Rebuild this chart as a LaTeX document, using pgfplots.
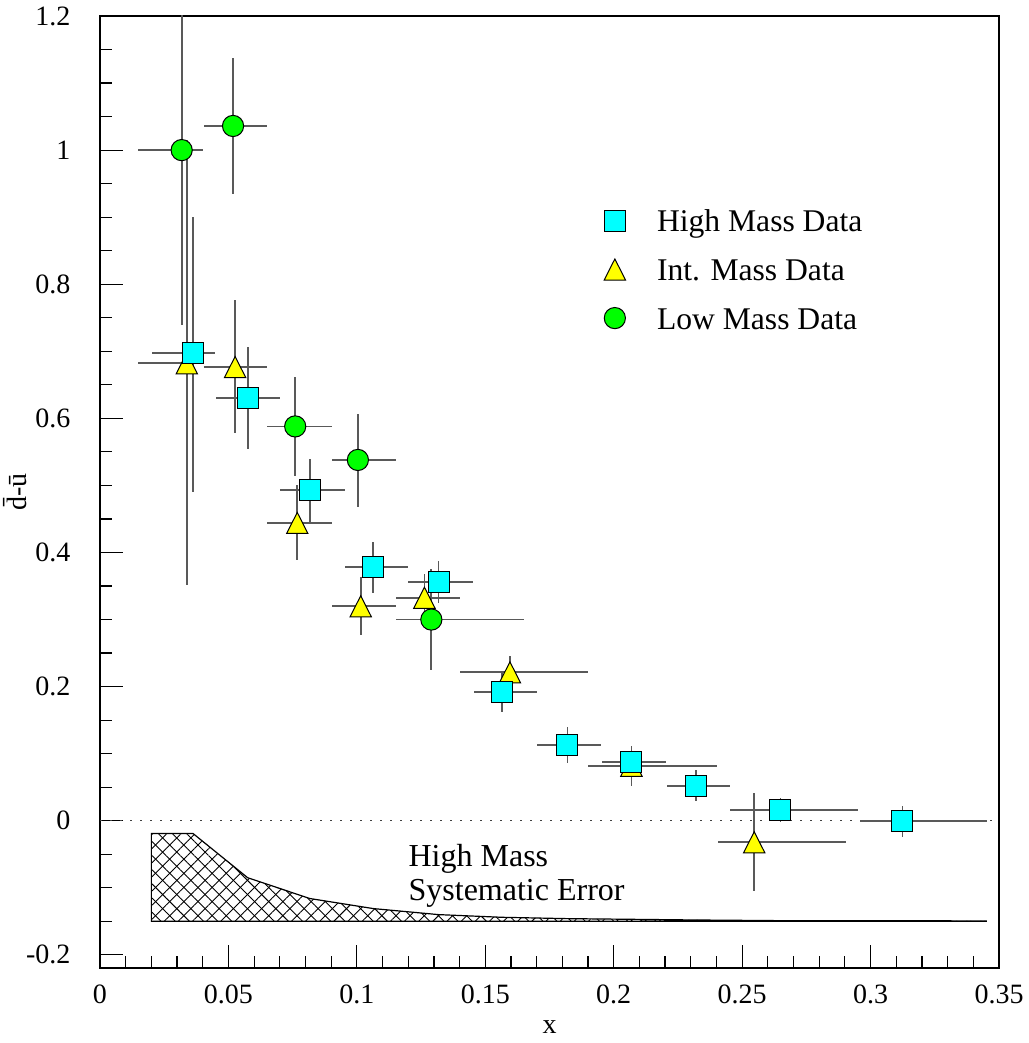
\documentclass[border=0pt]{standalone}
\usepackage{pgfplots}
\pgfplotsset{compat=1.18}
\usepackage{pgfplotstable}
\usepackage{fontspec}
\setmainfont{Liberation Serif}
\usetikzlibrary{patterns.meta}

\definecolor{hicyan}{RGB}{0,255,255}
\definecolor{intyellow}{RGB}{255,255,0}
\definecolor{logreen}{RGB}{0,255,0}

% High mass data (cyan squares)
\pgfplotstableread{
x      y       xm      xp      ym      yp
0.0362 0.697   0.0161  0.0087  0.2064  0.204
0.0575 0.630   0.0123  0.0124  0.076   0.076
0.0817 0.4926  0.0116  0.0135  0.0466  0.0474
0.1064 0.378   0.0112  0.0137  0.038   0.038
0.1318 0.3564  0.0117  0.0134  0.0314  0.0316
0.1565 0.1924  0.0110  0.0135  0.030   0.030
0.1820 0.113   0.0117  0.0132  0.0274  0.027
0.2069 0.087   0.0114  0.0135  0.0244  0.0244
0.2319 0.0522  0.0113  0.0133  0.0224  0.0234
0.2649 0.0155  0.0197  0.0303  0.018   0.018
0.3124 0.0     0.0165  0.0331  0.0247  0.0224
}\highdata

% Intermediate mass data (yellow triangles)
\pgfplotstableread{
x      y       xm      xp      ym      yp
0.0338 0.682   0.0189  0.0047  0.331   0.333
0.0526 0.6765  0.0123  0.0124  0.0985  0.0995
0.0768 0.444   0.0117  0.0135  0.055   0.0565
0.1015 0.3197  0.0112  0.0137  0.0427  0.0433
0.1263 0.3325  0.0109  0.0137  0.0355  0.0355
0.1596 0.2212  0.0193  0.0304  0.0244  0.0244
0.2069 0.082   0.0169  0.0334  0.030   0.030
0.2547 -0.0322 0.0142  0.0358  0.0728  0.074
}\intdata

% Low mass data (green circles)
\pgfplotstableread{
x      y       xm      xp      ym      yp
0.0318 1.000   0.0169  0.0082  0.261   0.261
0.0518 1.036   0.0115  0.0132  0.101   0.101
0.0760 0.588   0.0109  0.0143  0.074   0.074
0.1004 0.538   0.0101  0.0148  0.070   0.069
0.1290 0.300   0.0136  0.0362  0.0753  0.0753
}\lowdata

\pgfplotsset{
  myerr/.style={
    error bars/.cd,
      x dir=both, x explicit,
      y dir=both, y explicit,
      error mark=none,
      error bar style={line width=0.9pt, color=black!65},
  },
}

\begin{document}
\begin{tikzpicture}
\begin{axis}[
  scale only axis,
  width=449.5pt, height=476pt,
  xmin=0, xmax=0.35, ymin=-0.2196, ymax=1.2,
  axis line style={line width=0.6pt},
  tick pos=left, tick align=inside,
  xtick={0,0.05,0.1,0.15,0.2,0.25,0.3,0.35},
  xticklabels={0,0.05,0.1,0.15,0.2,0.25,0.3,0.35},
  ytick={-0.2,0,0.2,0.4,0.6,0.8,1,1.2},
  yticklabels={-0.2,0,0.2,0.4,0.6,0.8,1,1.2},
  minor x tick num=4, minor y tick num=3,
  major tick length=11.5pt, minor tick length=6pt,
  every tick/.style={black, line width=0.6pt},
  tick label style={font=\fontsize{14}{17}\selectfont},
  xticklabel style={yshift=-4.8pt},
  yticklabel style={xshift=-11.3pt},
  xlabel={x},
  ylabel={d̄-ū},
  every axis x label/.style={at={(axis description cs:0.5,0)}, anchor=north, inner sep=0pt, yshift=-26pt, font=\fontsize{14}{17}\selectfont},
  every axis y label/.style={at={(axis description cs:0,0.5)}, xshift=-42.5pt, rotate=90, anchor=center, inner sep=0pt, font=\fontsize{14}{17}\selectfont},
  legend style={draw=none, fill=none, at={(axis cs:0.1938,0.9166)}, anchor=north west,
    font=\fontsize{15.8}{18}\selectfont, row sep=10.5pt, column sep=0pt,
    nodes={inner sep=0pt, text height=10pt, text depth=3pt}},
  /tikz/every odd column/.append style={column sep=15.75pt},
  legend cell align=left,
  legend image code/.code={\draw[mark repeat=2,mark phase=2,#1] plot coordinates {(0pt,2pt)(8.5pt,2pt)(17pt,2pt)};},
  reverse legend,
]

% systematic error band (crosshatched)
\addplot[forget plot, draw=black, line width=0.6pt,
  pattern={Lines[angle=45,distance=5pt,line width=0.45pt]}]
  coordinates {(0.020,-0.019) (0.0362,-0.019) (0.0575,-0.085) (0.0817,-0.116)
    (0.1064,-0.131) (0.1318,-0.140) (0.1565,-0.144) (0.182,-0.146) (0.2069,-0.147)
    (0.2319,-0.148) (0.2649,-0.149) (0.3124,-0.149) (0.345,-0.1495) (0.345,-0.15) (0.020,-0.15)} -- cycle;
\addplot[forget plot, draw=none,
  pattern={Lines[angle=-45,distance=5pt,line width=0.45pt]}]
  coordinates {(0.020,-0.019) (0.0362,-0.019) (0.0575,-0.085) (0.0817,-0.116)
    (0.1064,-0.131) (0.1318,-0.140) (0.1565,-0.144) (0.182,-0.146) (0.2069,-0.147)
    (0.2319,-0.148) (0.2649,-0.149) (0.3124,-0.149) (0.345,-0.1495) (0.345,-0.15) (0.020,-0.15)} -- cycle;

% zero line
\addplot[forget plot, black!75, line width=0.7pt, dash pattern=on 1.2pt off 3.8pt]
  coordinates {(0,0) (0.35,0)};

\addplot[only marks, mark=*, mark size=5.3pt,
  mark options={fill=logreen, draw=black, line width=0.5pt}, myerr]
  table[x=x, y=y, x error minus=xm, x error plus=xp, y error minus=ym, y error plus=yp] {\lowdata};
\addlegendentry{Low Mass Data}

\addplot[only marks, mark=triangle*, mark size=6.16pt,
  mark options={fill=intyellow, draw=black, line width=0.5pt, yshift=-1.75pt, yscale=1.14}, myerr]
  table[x=x, y=y, x error minus=xm, x error plus=xp, y error minus=ym, y error plus=yp] {\intdata};
\addlegendentry{Int. Mass Data}

\addplot[only marks, mark=square*, mark size=5.25pt,
  mark options={fill=hicyan, draw=black, line width=0.5pt}, myerr]
  table[x=x, y=y, x error minus=xm, x error plus=xp, y error minus=ym, y error plus=yp] {\highdata};
\addlegendentry{High Mass Data}

\node[anchor=north west, align=left, inner sep=0pt, font=\fontsize{16}{17}\selectfont]
  at (axis cs:0.120,-0.034) {High Mass\\Systematic Error};
\end{axis}
\pgfresetboundingbox
\path[use as bounding box] ([xshift=-50pt,yshift=-37.5pt]current axis.south west)
  rectangle ([xshift=15pt,yshift=8pt]current axis.north east);
\end{tikzpicture}
\end{document}
